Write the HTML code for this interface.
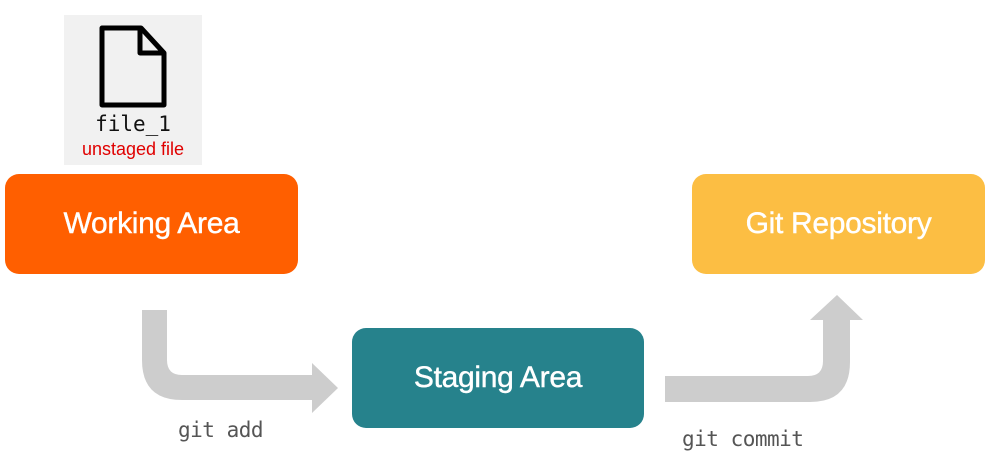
<!DOCTYPE html>
<html><head><meta charset="utf-8"><style>
body{margin:0;width:1006px;height:461px;background:#fff;position:relative;overflow:hidden;font-family:"Liberation Sans",sans-serif}
.box{position:absolute;border-radius:14px;color:#fff;font-size:30px;display:flex;align-items:center;justify-content:center;letter-spacing:-0.3px;-webkit-text-stroke:0.4px #fff}
.cmd{position:absolute;font-family:"DejaVu Sans Mono","Liberation Mono",monospace;font-size:21px;color:#555;letter-spacing:-0.5px}
</style></head><body>
<div style="position:absolute;left:64px;top:15px;width:138px;height:150px;background:#f1f1f1">
<svg width="138" height="150" style="position:absolute;left:0;top:0">
<path d="M38 13 H77 L100 38 V90 H38 Z" fill="none" stroke="#000" stroke-width="5" stroke-linejoin="round"/>
<path d="M76 13 V38 H100" fill="none" stroke="#000" stroke-width="5" stroke-linejoin="round"/>
</svg>
<div style="position:absolute;left:0;width:138px;top:97px;text-align:center;font-family:'DejaVu Sans Mono','Liberation Mono',monospace;font-size:21px;color:#111">file_1</div>
<div style="position:absolute;left:0;width:138px;top:124px;text-align:center;font-size:18px;color:#e00000">unstaged file</div>
</div>
<div class="box" style="left:5px;top:174px;width:293px;height:100px;background:#ff5f00">Working Area</div>
<div class="box" style="left:692px;top:174px;width:293px;height:100px;background:#fcbe43">Git Repository</div>
<div class="box" style="left:352px;top:328px;width:292px;height:100px;background:#26828c">Staging Area</div>
<svg width="1006" height="461" style="position:absolute;left:0;top:0">
<path d="M142 310 H167 V360 Q167 375 182 375 H312 V363 L338 388 L312 413 V400 H182 Q142 400 142 360 Z" fill="#cdcdcd"/>
<path d="M665 376 H808 Q823 376 823 361 V320 H810 L837 295 L863 320 H850 V362 Q850 402 810 402 H665 Z" fill="#cdcdcd"/>
</svg>
<div class="cmd" style="left:178px;top:418px">git add</div>
<div class="cmd" style="left:682px;top:427px">git commit</div>
</body></html>
